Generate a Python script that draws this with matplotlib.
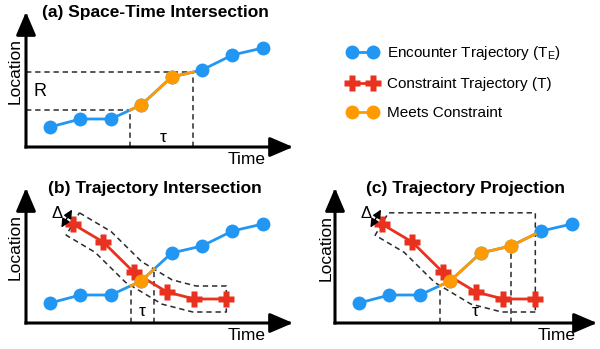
import numpy as np
import matplotlib
matplotlib.use("Agg")
import matplotlib.pyplot as plt
from matplotlib.path import Path
from matplotlib.lines import Line2D

plt.rcParams["font.family"] = ["Liberation Sans", "DejaVu Sans"]
plt.rcParams["mathtext.fontset"] = "custom"
plt.rcParams["mathtext.rm"] = "Liberation Sans"
plt.rcParams["mathtext.default"] = "regular"

# encounter trajectory T_E, one sample per time step
enc_time = [1, 2, 3, 4, 5, 6, 7, 8]
enc_loc = [2.0, 2.8, 2.8, 4.2, 7.0, 7.7, 9.2, 9.9]

# constraint trajectory T
con_time = [1.75, 2.75, 3.75, 4.85, 5.75, 6.8]
con_loc = [9.9, 8.1, 5.1, 3.1, 2.4, 2.4]

# location range R used in (a)
r_range = [3.7, 7.5]

legend_labels = ["Encounter Trajectory (T$_{E}$)",
                 "Constraint Trajectory (T)",
                 "Meets Constraint"]

BLUE, RED, ORANGE, DASH = "#2196F3", "#E8311E", "#FF9A00", "#2a2a2a"
W, H = 600, 349
PX_T, PX_L = 30.4, 10.0       # pixels per time step / per location unit
T0 = 1 - 24 / PX_T            # time at the vertical axis
DELTA = 13                    # corridor half-width (px)
DASHES = (0, (3.5, 2.5))
MS_DOT, MS_PLUS = 10, 11

fig = plt.figure(figsize=(W / 100, H / 100), dpi=100)


def ftext(x, y, s, **kw):
    kw.setdefault("ha", "center")
    kw.setdefault("va", "center")
    fig.text(x / W, 1 - y / H, s, **kw)


def panel(ox, oy, w, h):
    ax = fig.add_axes([ox / W, 1 - oy / H, w / W, h / H])
    ax.set_xlim(T0, T0 + w / PX_T)
    ax.set_ylim(0, h / PX_L)
    ax.axis("off")
    head = "-|>,head_length=14,head_width=6"
    for end in [(1, 0), (0, 1)]:
        ax.annotate("", xy=end, xytext=(0, 0), xycoords="axes fraction",
                    arrowprops=dict(arrowstyle=head, lw=2.2, color="k",
                                    shrinkA=0, shrinkB=0, mutation_scale=1,
                                    capstyle="projecting"), zorder=6)
    return ax


def to_px(ax, x, y):
    return ax.transData.transform(np.column_stack([x, y]))


def to_data(ax, pts):
    return ax.transData.inverted().transform(np.atleast_2d(pts))


def fine(t, y, n=400):
    ts, ys = [], []
    for i in range(len(t) - 1):
        s = np.linspace(0, 1, n, endpoint=False)
        ts.append(t[i] + s * (t[i + 1] - t[i]))
        ys.append(y[i] + s * (y[i + 1] - y[i]))
    ts.append([t[-1]]); ys.append([y[-1]])
    return np.concatenate(ts), np.concatenate(ys)


def offset(pts, d):
    """Offset a pixel polyline sideways by d (positive = left/up)."""
    seg = np.diff(pts, axis=0)
    tan = seg / np.linalg.norm(seg, axis=1)[:, None]
    nrm = np.column_stack([-tan[:, 1], tan[:, 0]])
    out = [pts[0] + d * nrm[0]]
    for i in range(1, len(pts) - 1):
        m = nrm[i - 1] + nrm[i]
        m /= np.linalg.norm(m)
        out.append(pts[i] + d * m / np.dot(m, nrm[i]))
    out.append(pts[-1] + d * nrm[-1])
    return np.array(out), tan[0], nrm[0]


def draw_encounter(ax, poly_px):
    """Blue trajectory, with the part inside poly_px drawn orange."""
    ts, ys = fine(enc_time, enc_loc)
    inside = Path(poly_px).contains_points(to_px(ax, ts, ys))
    idx = np.flatnonzero(inside)
    i0, i1 = idx[0], idx[-1]
    ax.plot(enc_time, enc_loc, color=BLUE, lw=2, marker="o", ms=MS_DOT,
            mec="none", zorder=3, clip_on=False)
    ax.plot(ts[i0:i1 + 1], ys[i0:i1 + 1], color=ORANGE, lw=2, zorder=5,
            clip_on=False)
    pin = Path(poly_px).contains_points(to_px(ax, enc_time, enc_loc))
    ax.plot(np.array(enc_time)[pin], np.array(enc_loc)[pin], ls="none",
            marker="o", ms=MS_DOT, color=ORANGE, mec="none", zorder=5,
            clip_on=False)
    return (ts[i0], ys[i0]), (ts[i1], ys[i1]), pin


def draw_constraint(ax):
    ax.plot(con_time, con_loc, color=RED, lw=2, marker="P", ms=MS_PLUS,
            mec="none", zorder=4, clip_on=False)


def dashed(ax, x, y):
    ax.plot(x, y, color=DASH, lw=1.1, ls=DASHES, zorder=2, clip_on=False)


def delta_mark(ax, tan, nrm):
    p0 = to_px(ax, con_time[:1], con_loc[:1])[0]
    mid = p0 - 8 * tan + 1.6 * nrm
    a, b = to_data(ax, mid - 10.5 * nrm)[0], to_data(ax, mid + 10.5 * nrm)[0]
    ax.annotate("", xy=b, xytext=a,
                arrowprops=dict(arrowstyle="<|-|>,head_length=5,head_width=2.4",
                                lw=1.1, color="k", shrinkA=0, shrinkB=0,
                                mutation_scale=1), zorder=6)
    tx, ty = to_data(ax, mid + np.array([-10, 5]))[0]
    ax.text(tx, ty, "Δ", fontsize=12, ha="center", va="center")


# (a) space-time intersection
ax = panel(26, 147, 267, 135)
lo, hi = to_px(ax, [T0, T0], r_range)[:, 1]
band = np.array([[0, lo], [W * 2, lo], [W * 2, hi], [0, hi]])
(t_in, y_in), (t_out, y_out), _ = draw_encounter(ax, band)
dashed(ax, [T0, t_in], [r_range[0]] * 2)
dashed(ax, [T0, t_out], [r_range[1]] * 2)
dashed(ax, [t_in, t_in], [0, y_in])
dashed(ax, [t_out, t_out], [0, y_out])
ax.text((t_in + t_out) / 2 + 0.05, 1.0, "τ", fontsize=12.5, ha="center", va="center")
ftext(40, 91, "R", fontsize=13)

# (b) trajectory intersection
ax = panel(26, 323, 267, 135)
cpx = to_px(ax, con_time, con_loc)
upper, tan, nrm = offset(cpx, DELTA)
lower, _, _ = offset(cpx, -DELTA)
corridor = np.vstack([upper, lower[::-1], upper[:1]])
cd = to_data(ax, corridor)
dashed(ax, cd[:, 0], cd[:, 1])
(t_in, y_in), (t_out, y_out), _ = draw_encounter(ax, corridor)
draw_constraint(ax)
dashed(ax, [t_in, t_in], [0, y_in])
dashed(ax, [t_out, t_out], [0, y_out])
ax.text((t_in + t_out) / 2, 1.1, "τ", fontsize=12.5, ha="center", va="center")
delta_mark(ax, tan, nrm)

# (c) trajectory projection
ax = panel(335, 323, 262, 135)
cpx = to_px(ax, con_time, con_loc)
upper, tan, nrm = offset(cpx, DELTA)
lower, _, _ = offset(cpx, -DELTA)
top = upper[0, 1]
hull = np.vstack([lower[::-1], upper[:1], [[cpx[-1, 0], top]],
                  [[cpx[-1, 0], lower[-1, 1]]]])
hd = to_data(ax, np.vstack([hull, hull[:1]]))
dashed(ax, hd[:, 0], hd[:, 1])
(t_in, y_in), _, pin = draw_encounter(ax, hull)
draw_constraint(ax)
t_last = np.array(enc_time)[pin][-1]
y_last = np.array(enc_loc)[pin][-1]
dashed(ax, [t_in, t_in], [0, y_in])
dashed(ax, [t_last, t_last], [0, y_last])
ax.text((t_in + t_last) / 2, 1.1, "τ", fontsize=12.5, ha="center", va="center")
delta_mark(ax, tan, nrm)

# titles and axis labels
for x, y, s in [(155, 12, "(a) Space-Time Intersection"),
                (155, 189, "(b) Trajectory Intersection"),
                (465, 189, "(c) Trajectory Projection")]:
    ftext(x, y, s, fontsize=12.5, fontweight="bold")
for x, y in [(15, 71), (15, 247), (326, 248)]:
    ftext(x, y, "Location", fontsize=12.5, rotation=90)
for x, y in [(247, 160), (247, 336), (557, 336)]:
    ftext(x, y, "Time", fontsize=12.5)

handles = [Line2D([], [], color=BLUE, lw=2, marker="o", ms=MS_DOT, mec="none"),
           Line2D([], [], color=RED, lw=2, marker="P", ms=MS_PLUS, mec="none"),
           Line2D([], [], color=ORANGE, lw=2, marker="o", ms=MS_DOT, mec="none")]
fig.legend(handles, legend_labels, loc="upper left",
           bbox_to_anchor=(347 / W, 1 - 44 / H), frameon=False, fontsize=11,
           numpoints=2, handlelength=2.0, handletextpad=0.6, labelspacing=0.98,
           borderaxespad=0, borderpad=0)

fig.savefig("out.png", dpi=100)
